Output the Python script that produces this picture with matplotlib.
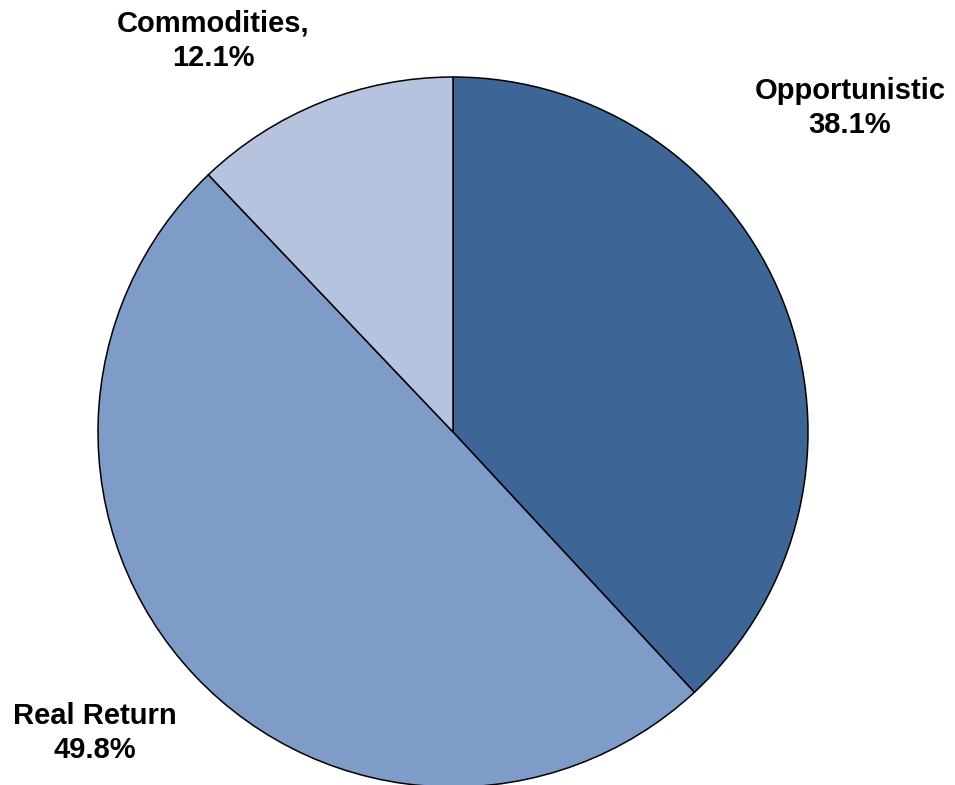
import matplotlib.pyplot as plt

labels = ["Opportunistic", "Real Return", "Commodities,"]
shares = [38.1, 49.8, 12.1]
colors = ["#3D6696", "#7F9BC7", "#B5C3DE"]

# label placement in pixel coords (x, y from top)
label_pos = [(850, 108), (95, 733), (213, 41)]

W, H = 955, 785
fig = plt.figure(figsize=(W / 100, H / 100), dpi=100)
ax = fig.add_axes([0, 0, 1, 1])

ax.pie(shares, colors=colors, startangle=90, counterclock=False,
       center=(453, H - 432), radius=355, frame=True,
       wedgeprops=dict(edgecolor="black", linewidth=1.1))
ax.set_xlim(0, W)
ax.set_ylim(0, H)
ax.set_aspect("equal")
ax.axis("off")

for name, val, (x, y) in zip(labels, shares, label_pos):
    ax.text(x, H - y, f"{name}\n{val:.1f}%", ha="center", va="center",
            multialignment="center", fontsize=21, fontweight="bold",
            family="Liberation Sans", linespacing=1.3)

fig.savefig("out.png", dpi=100)
